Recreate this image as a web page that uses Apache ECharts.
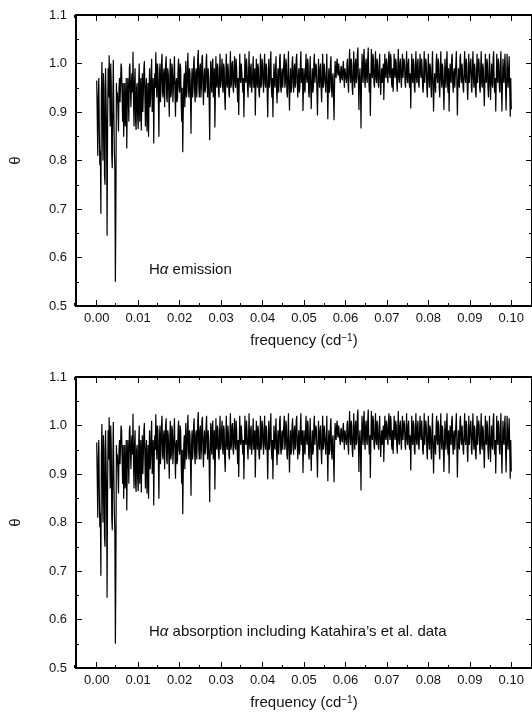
<!DOCTYPE html>
<html>
<head>
<meta charset="utf-8">
<script src="https://cdn.jsdelivr.net/npm/echarts@6/dist/echarts.min.js"></script>
<style>
html,body{margin:0;padding:0;background:#fff;}
#chart{width:532px;height:713px;}
</style>
</head>
<body>
<div id="chart"></div>
<script>
// frequency grid (cd^-1)
const freqStart = 0.0;
const freqStep = 0.000125;
// theta statistic (one value per frequency step, 40 per 0.005)
const thetaEmission = [
0.965,0.89,0.81,0.93,0.97,0.86,0.79,0.82,0.69,0.94,1.003,0.90,0.80,0.98,0.95,0.77,0.75,0.99,0.93,0.85,0.645,0.88,0.99,0.93,1.017,0.95,0.87,1.00,0.96,0.81,0.784,0.92,1.007,0.90,0.82,0.78,0.55,0.71,0.96,0.92,
0.94,0.90,0.86,0.95,0.97,0.92,0.918,1.00,0.99,0.93,0.88,0.96,0.849,0.91,0.96,0.87,0.90,0.97,0.825,0.92,0.97,0.93,0.88,0.99,1.00,0.95,0.91,0.96,0.98,0.94,1.024,0.92,0.87,0.96,0.99,0.88,0.863,0.95,0.96,0.89,
0.865,0.96,1.00,0.88,0.92,0.97,0.862,0.93,0.98,0.90,0.94,0.99,1.005,0.93,0.87,0.95,0.97,0.86,0.90,0.96,0.849,0.94,0.99,0.91,0.93,0.98,1.01,0.90,0.95,0.97,0.835,0.93,0.98,0.95,1.023,0.96,0.93,1.00,0.99,0.92,
0.849,0.97,1.00,0.92,0.95,1.00,1.02,0.94,0.93,0.98,0.99,0.91,0.96,1.00,1.015,0.93,0.92,0.99,0.98,0.94,0.89,0.97,1.01,0.93,0.94,1.00,0.99,0.92,0.95,0.98,1.015,0.94,0.89,0.96,0.97,0.92,0.93,0.99,1.01,0.95,
0.94,1.00,0.99,0.92,0.88,0.95,0.817,0.90,0.96,0.98,0.91,0.97,1.005,0.93,0.94,0.99,1.022,0.95,0.93,0.99,0.98,0.92,0.855,0.96,0.99,0.93,0.95,1.00,1.015,0.94,0.92,0.98,0.99,0.93,0.96,1.01,1.028,0.95,0.93,0.99,
1.00,0.93,0.95,1.01,1.018,0.95,0.914,0.97,0.99,0.94,0.95,1.00,1.02,0.96,0.93,0.99,0.97,0.92,0.842,0.95,1.005,0.96,0.94,1.00,1.01,0.93,0.96,0.99,0.868,0.94,1.015,0.96,0.95,1.00,0.99,0.94,0.93,0.98,1.02,0.95,
0.96,0.99,1.01,0.95,0.94,1.00,0.99,0.93,0.904,0.97,1.02,0.96,0.95,1.00,0.985,0.94,0.93,0.98,1.025,0.95,0.96,1.00,1.005,0.95,0.94,0.99,1.015,0.96,0.95,1.01,0.99,0.95,0.92,0.97,0.894,0.96,1.02,0.97,0.96,1.00,
1.00,0.96,0.94,0.97,0.889,0.95,1.02,0.97,0.96,1.01,0.99,0.95,0.93,0.98,1.025,0.96,0.95,0.99,1.00,0.94,0.94,0.98,1.015,0.95,0.96,0.99,0.893,0.95,1.01,0.97,0.95,1.00,0.99,0.94,0.93,0.97,1.02,0.95,0.96,1.01,
1.00,0.96,0.94,0.99,1.02,0.96,0.95,1.00,0.99,0.94,0.889,0.96,1.01,0.95,0.96,1.00,1.025,0.95,0.93,0.97,0.889,0.95,1.00,0.96,0.95,0.99,1.015,0.95,0.918,0.97,0.99,0.94,0.96,1.01,1.02,0.95,0.94,0.98,0.99,0.95,
0.95,1.00,1.02,0.95,0.96,1.01,1.00,0.94,0.93,0.98,1.025,0.95,0.903,0.96,0.99,0.94,0.95,1.00,1.015,0.96,0.94,0.99,1.00,0.95,0.96,1.01,1.02,0.96,0.93,0.97,0.99,0.94,0.95,1.00,1.025,0.96,0.96,0.99,0.902,0.95,
0.99,0.95,0.94,0.99,1.02,0.97,0.96,1.01,1.00,0.94,0.93,0.98,1.015,0.95,0.906,0.96,0.99,0.94,0.95,1.00,1.02,0.96,0.96,1.00,0.99,0.94,0.893,0.96,1.01,0.97,0.95,0.99,1.00,0.95,0.92,0.97,1.02,0.95,0.96,1.00,
1.00,0.96,0.94,0.98,1.02,0.95,0.885,0.96,0.99,0.94,0.95,1.00,1.015,0.95,0.93,0.97,0.98,0.93,0.883,0.96,1.005,0.98,0.97,1.00,1.01,0.98,0.975,1.00,1.00,0.97,0.96,0.99,0.995,0.97,0.965,0.99,1.005,0.97,0.95,0.99,
0.99,0.97,0.96,1.00,1.01,0.96,0.94,0.99,1.03,0.98,0.96,1.01,1.00,0.95,0.935,0.98,1.025,0.97,0.95,1.00,1.01,0.96,0.97,1.02,1.033,0.96,0.904,0.97,0.99,0.95,0.866,0.97,1.02,0.98,0.96,1.01,1.03,0.97,0.95,1.00,
1.01,0.97,0.96,1.01,1.033,0.97,0.94,0.98,0.892,0.96,1.03,0.98,0.97,1.02,1.01,0.96,0.95,0.99,1.025,0.97,0.96,1.01,1.00,0.96,0.95,0.99,1.02,0.97,0.935,0.97,0.99,0.96,0.96,1.00,0.925,0.97,1.02,0.98,0.97,1.01,
1.00,0.97,0.96,1.01,1.025,0.98,0.97,1.02,1.01,0.96,0.95,0.99,0.942,0.98,1.02,0.98,0.97,1.01,1.00,0.96,0.942,0.99,1.03,0.97,0.96,1.00,1.01,0.97,0.95,0.99,1.02,0.97,0.97,1.01,1.00,0.96,0.95,0.99,1.025,0.97,
0.96,1.00,1.01,0.96,0.95,0.98,0.907,0.97,1.02,0.97,0.96,1.01,1.00,0.95,0.94,0.99,1.025,0.97,0.96,1.00,1.01,0.96,0.95,0.99,1.02,0.98,0.97,1.01,0.99,0.95,0.94,0.98,1.025,0.96,0.96,1.01,1.00,0.95,0.93,0.98,
1.02,0.97,0.95,1.00,0.99,0.95,0.93,0.99,1.025,0.96,0.901,0.95,0.98,0.96,0.94,1.00,1.02,0.97,0.96,1.01,1.00,0.95,0.93,0.98,1.025,0.97,0.95,1.00,0.99,0.95,0.904,0.96,1.01,0.97,0.95,1.00,1.025,0.96,0.94,0.99,
0.901,0.96,1.00,0.97,0.96,1.01,1.02,0.96,0.94,0.98,0.99,0.95,0.95,1.00,1.025,0.96,0.893,0.95,0.99,0.96,0.95,1.01,1.02,0.97,0.96,1.00,1.00,0.95,0.94,0.99,1.025,0.97,0.96,1.01,1.00,0.95,0.925,0.97,1.02,0.96,
0.96,1.00,1.01,0.95,0.94,0.99,1.025,0.97,0.95,1.00,0.99,0.94,0.93,0.98,1.02,0.96,0.96,1.01,1.00,0.95,0.94,0.99,1.025,0.96,0.95,1.00,0.99,0.95,0.912,0.96,1.02,0.97,0.96,1.01,1.00,0.95,0.93,0.98,1.02,0.96,
0.925,0.97,1.00,0.96,0.95,1.01,1.025,0.96,0.94,0.97,0.901,0.96,1.02,0.97,0.96,1.01,1.00,0.95,0.94,0.99,1.025,0.95,0.901,0.96,1.01,0.97,0.96,1.00,1.02,0.95,0.903,0.96,1.02,0.97,0.95,0.99,1.015,0.95,0.89,0.97,
0.905
];
// the lower panel shows the same periodogram in the reference
const thetaAbsorption = thetaEmission.slice();

const xMajorTicks = [0, 0.01, 0.02, 0.03, 0.04, 0.05, 0.06, 0.07, 0.08, 0.09, 0.10];
const yTickLabels = ['0.5','0.6','0.7','0.8','0.9','1.0','1.1'];
const panelLabels = ['emission', 'absorption including Katahira\u2019s et al. data'];
const xName = 'frequency (cd{sup|\u22121})';
const yName = '\u03b8';

const FONT = "'Liberation Sans', Arial, sans-serif";
const toPairs = arr => arr.map((v, i) => [freqStart + i * freqStep, v]);

const panels = [
  {top: 15, data: thetaEmission, label: panelLabels[0]},
  {top: 377, data: thetaAbsorption, label: panelLabels[1]}
];

const grids = [], xAxes = [], yAxes = [], series = [], graphics = [];
const GL = 74, GW = 461, GH = 291;
const XMIN = -0.005, XMAX = 0.105;
const noLine = {show: false, onZero: false};

panels.forEach((p, k) => {
  const gMain = grids.length;
  grids.push({left: GL, top: p.top, width: GW, height: GH, show: true,
    borderColor: '#000', borderWidth: 2, backgroundColor: 'transparent', containLabel: false});
  const gMinor = grids.length;
  grids.push({left: GL, top: p.top, width: GW, height: GH, show: false, containLabel: false});

  const tickStyle = {color: '#000', width: 1};
  xAxes.push({gridIndex: gMain, type: 'value', position: 'bottom', min: XMIN, max: XMAX,
    axisLine: noLine, splitLine: {show: false},
    axisTick: {show: true, inside: true, length: 6, lineStyle: tickStyle, customValues: xMajorTicks},
    axisLabel: {show: true, customValues: xMajorTicks, margin: 6, color: '#111', fontSize: 13, fontFamily: FONT,
      formatter: v => v.toFixed(2)},
    name: xName, nameLocation: 'middle', nameGap: 27,
    nameTextStyle: {color: '#111', fontSize: 15, fontFamily: FONT,
      rich: {sup: {fontSize: 10, verticalAlign: 'top', color: '#111', fontFamily: FONT}}}
  });
  xAxes.push({gridIndex: gMain, type: 'value', position: 'top', min: XMIN, max: XMAX,
    axisLine: noLine, splitLine: {show: false},
    axisTick: {show: true, inside: true, length: 6, lineStyle: tickStyle, customValues: xMajorTicks},
    axisLabel: {show: false}
  });
  xAxes.push({gridIndex: gMinor, type: 'value', position: 'bottom', min: XMIN, max: XMAX, interval: 0.01,
    axisLine: noLine, splitLine: {show: false},
    axisTick: {show: true, inside: true, length: 3, lineStyle: tickStyle},
    axisLabel: {show: false}
  });
  xAxes.push({gridIndex: gMinor, type: 'value', position: 'top', min: XMIN, max: XMAX, interval: 0.01,
    axisLine: noLine, splitLine: {show: false},
    axisTick: {show: true, inside: true, length: 3, lineStyle: tickStyle},
    axisLabel: {show: false}
  });
  yAxes.push({gridIndex: gMain, type: 'value', position: 'left', min: 0.5, max: 1.1, interval: 0.1,
    axisLine: noLine, splitLine: {show: false},
    axisTick: {show: true, inside: true, length: 6, lineStyle: tickStyle},
    minorTick: {show: true, splitNumber: 2, length: 3, lineStyle: tickStyle},
    axisLabel: {show: true, margin: 9, color: '#111', fontSize: 13, fontFamily: FONT,
      formatter: v => yTickLabels[Math.round((v - 0.5) * 10)]},
    name: yName, nameLocation: 'middle', nameGap: 53, nameRotate: 90,
    nameTextStyle: {color: '#111', fontSize: 15, fontFamily: FONT}
  });
  yAxes.push({gridIndex: gMain, type: 'value', position: 'right', min: 0.5, max: 1.1, interval: 0.1,
    axisLine: noLine, splitLine: {show: false},
    axisTick: {show: true, inside: true, length: 6, lineStyle: tickStyle},
    minorTick: {show: true, splitNumber: 2, length: 3, lineStyle: tickStyle},
    axisLabel: {show: false}
  });
  yAxes.push({gridIndex: gMinor, type: 'value', show: false, min: 0, max: 1, axisLine: noLine});

  series.push({type: 'line', xAxisIndex: k * 4, yAxisIndex: k * 3, data: toPairs(p.data),
    showSymbol: false, symbol: 'none', lineStyle: {color: '#000', width: 1.2}, silent: true, animation: false});

  graphics.push({type: 'text', left: 149, top: p.top + 247,
    style: {text: 'H{it|\u03b1} ' + p.label, fill: '#111', font: '15px ' + FONT,
      rich: {it: {fontStyle: 'italic', fontSize: 15, fontFamily: FONT, fill: '#111'}}}});
});

const chart = echarts.init(document.getElementById('chart'), null, {renderer: 'canvas'});
chart.setOption({
  animation: false,
  backgroundColor: '#fff',
  grid: grids, xAxis: xAxes, yAxis: yAxes, series: series, graphic: graphics
});
</script>
</body>
</html>
